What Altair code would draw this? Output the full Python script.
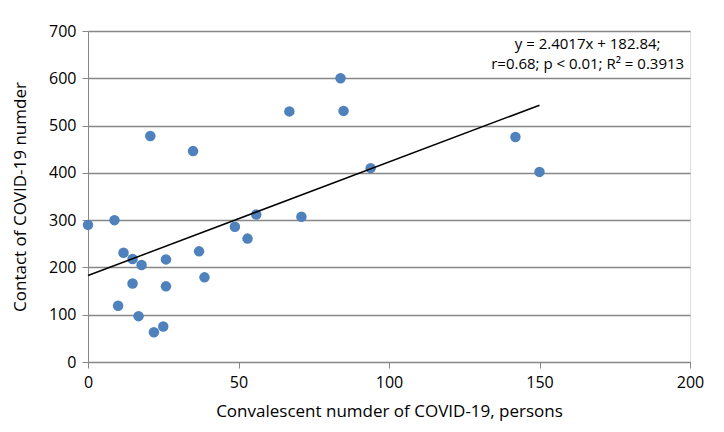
import altair as alt
import pandas as pd

convalescent = [0, 8.8, 11.8, 14.8, 17.8, 25.9, 36.9, 48.8, 53.0, 55.9, 70.9, 93.9,
                14.8, 25.9, 38.7, 10.0, 16.8, 21.9, 25.0, 20.7, 34.9, 66.9, 83.9, 84.9,
                142.0, 150.0]
contact = [290, 300, 231, 218, 205, 217, 234, 286, 261, 312, 307, 410,
           166, 160, 179, 119, 97, 63, 75, 478, 446, 530, 600, 531,
           476, 402]

trend_x = [0, 150]
trend_y = [182.84, 543.1]

note_lines = ["y = 2.4017x + 182.84;", "r=0.68; p < 0.01; R² = 0.3913"]
note_x = [166, 166]
note_y = [672, 630]

pts = pd.DataFrame({"x": convalescent, "y": contact})
trend = pd.DataFrame({"x": trend_x, "y": trend_y})
notes = pd.DataFrame({"t": note_lines, "x": note_x, "y": note_y})

FONT = "Open Sans"
GRAY = "#878787"

xs = alt.Scale(domain=[0, 200], nice=False)
ys = alt.Scale(domain=[0, 700], nice=False)

xax = alt.Axis(values=[0, 50, 100, 150, 200], grid=False, domain=True, domainColor=GRAY,
               ticks=True, tickColor=GRAY, tickSize=6, labelFontSize=16, labelFont=FONT,
               labelColor="#000", titleFontSize=17, titleFont=FONT, titleFontWeight="normal",
               titleColor="#000", labelPadding=6, titlePadding=13, labelFlush=False)
yax = alt.Axis(values=[0, 100, 200, 300, 400, 500, 600, 700], grid=True, gridColor=GRAY,
               gridWidth=1.5, domain=True, domainColor=GRAY, ticks=True, tickColor=GRAY,
               tickSize=6, labelFontSize=16, labelFont=FONT, labelColor="#000",
               titleFontSize=17, titleFont=FONT, titleFontWeight="normal", titleColor="#000",
               labelPadding=6, titlePadding=19)

points = alt.Chart(pts).mark_circle(size=110, color="#4f81bd", opacity=1).encode(
    x=alt.X("x:Q", scale=xs, axis=xax, title="Convalescent numder of COVID-19, persons"),
    y=alt.Y("y:Q", scale=ys, axis=yax, title="Contact of COVID-19 numder"),
)

line = alt.Chart(trend).mark_line(color="#000", strokeWidth=1.5).encode(
    x=alt.X("x:Q", scale=xs), y=alt.Y("y:Q", scale=ys)
)

text = alt.Chart(notes).mark_text(font=FONT, fontSize=15, align="center", color="#000").encode(
    x=alt.X("x:Q", scale=xs), y=alt.Y("y:Q", scale=ys), text="t:N"
)

chart = alt.layer(points, line, text).properties(
    width=602, height=331,
    padding={"left": 3, "top": 15, "right": 5, "bottom": 5},
).configure_view(stroke=None).configure(background="white")

chart.save("out.html", embed_options={"renderer": "svg", "actions": False})
